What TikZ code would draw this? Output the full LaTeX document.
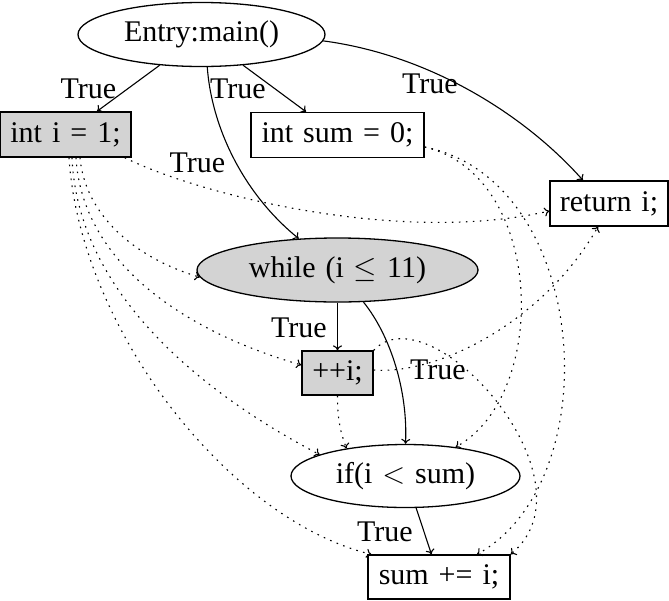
\RequirePackage{fix-cm}
\documentclass[tikz,border=0pt]{standalone}
\usepackage{fontspec}
\setmainfont{Liberation Serif}[WordSpace=1.33]
\usetikzlibrary{arrows.meta,shapes.geometric}
\definecolor{fillgray}{HTML}{D3D3D3}
\begin{document}
\begin{tikzpicture}[x=1pt,y=-1pt,
  font=\fontsize{30}{36}\selectfont,
  box/.style={draw, line width=1.3pt, rectangle, inner sep=0pt},
  oval/.style={draw, line width=1.3pt, ellipse, inner sep=0pt},
  grayfill/.style={fill=fillgray},
  ctrl/.style={line width=1.1pt, -{To[length=5pt,width=9pt]}},
  dataf/.style={ctrl, dash pattern=on 1.6pt off 5.4pt},
  lbl/.style={inner sep=0pt, anchor=base}]
\useasboundingbox (0,0) rectangle (669,600);

% nodes
\node[oval, minimum width=247pt, minimum height=64pt] (entry) at (201.5,34.5) {Entry:main()};
\node[box, grayfill, minimum width=131pt, minimum height=45pt] (inti) at (65.5,134.5) {int i = 1;};
\node[box, minimum width=173pt, minimum height=45pt] (intsum) at (337.5,135) {int sum = 0;};
\node[box, minimum width=118pt, minimum height=45pt] (ret) at (609,203.5) {return i;};
\node[oval, grayfill, minimum width=281pt, minimum height=64pt] (wh) at (337.5,270) {while (i $\leq$ 11)};
\node[box, grayfill, minimum width=71pt, minimum height=44pt] (inc) at (337.5,373) {++i;};
\node[oval, minimum width=229pt, minimum height=63pt] (ifn) at (405.5,476) {if(i $<$ sum)};
\node[box, minimum width=142pt, minimum height=44pt] (sum) at (439,577) {sum += i;};

% control edges
\draw[ctrl] (entry) -- (inti);
\draw[ctrl] (entry) -- (intsum);
\draw[ctrl] (entry.280) .. controls (212,130) and (245,195) .. (wh.141);
\draw[ctrl] (entry.357) .. controls (430,55) and (525,115) .. ([xshift=-26pt]ret.north);
\draw[ctrl] (wh) -- (inc);
\draw[ctrl] (wh.309) .. controls (390,335) and (408,390) .. (ifn.north);
\draw[ctrl] (ifn) -- (sum);

% data edges
\draw[dataf] ([xshift=-7pt]inti.south east) .. controls (200,195) and (400,245) .. ([yshift=-7.5pt]ret.west);
\draw[dataf] ([xshift=14.5pt]inti.south) .. controls (85,215) and (135,258) .. (wh.183);
\draw[dataf] ([xshift=10.5pt]inti.south) .. controls (82,260) and (180,330) .. ([yshift=8pt]inc.west);
\draw[dataf] ([xshift=6.5pt]inti.south) .. controls (78,300) and (215,400) .. (ifn.166);
\draw[dataf] ([xshift=3.5pt]inti.south) .. controls (80,330) and (230,520) .. ([xshift=4pt]sum.north west);
\draw[dataf] ([yshift=-12pt]intsum.east) .. controls (545,175) and (550,395) .. (ifn.30);
\draw[dataf] ([yshift=-12pt]intsum.east) .. controls (590,180) and (610,480) .. ([xshift=38pt]sum.north);
\draw[dataf] ([yshift=3pt]inc.east) .. controls (440,375) and (545,320) .. ([xshift=-11pt]ret.south);
\draw[dataf] (inc.north east) .. controls (430,290) and (600,480) .. (sum.north east);
\draw[dataf] (inc.south) .. controls (337.5,425) and (342,435) .. (ifn.155);

% labels
\node[lbl] (l1) at (88.5,98) {True};
\node[lbl] (l2) at (238,98) {True};
\node[lbl] (l3) at (197.5,172) {True};
\node[lbl] (l4) at (430,93) {True};
\node[lbl] (l5) at (299,337) {True};
\node[lbl] (l6) at (438,379) {True};
\node[lbl] (l7) at (385,541) {True};
\end{tikzpicture}
\end{document}
